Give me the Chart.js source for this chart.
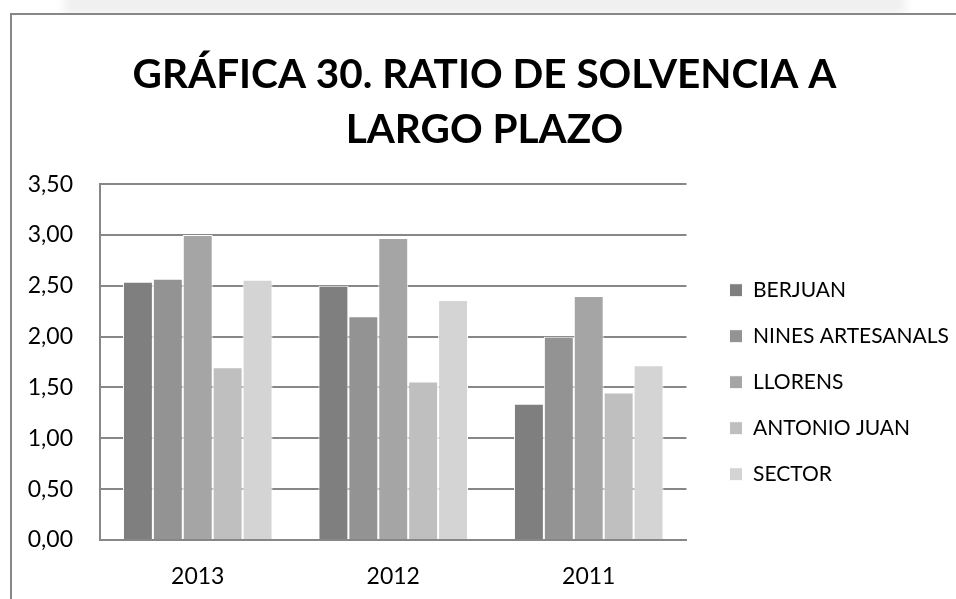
<!DOCTYPE html>
<html>
<head>
<meta charset="utf-8">
<script src="https://cdn.jsdelivr.net/npm/chart.js@4"></script>
<style>
  html, body { margin: 0; padding: 0; background: #fff; }
  #wrap { position: relative; width: 956px; height: 599px; overflow: hidden; }
  #shade { position: absolute; left: 70px; top: 0; width: 830px; height: 8px;
    background: #f0f0f0; box-shadow: 0 0 10px 6px #f0f0f0; }
  #frame { position: absolute; left: 10px; top: 13px; width: 960px; height: 600px;
    border: 2px solid #878787; background: #fff; }
  canvas { position: absolute; left: 0; top: 0; }
</style>
</head>
<body>
<div id="wrap">
  <div id="shade"></div>
  <div id="frame"></div>
  <canvas id="ratio" width="956" height="599"></canvas>
</div>
<script>
var years = ["2013", "2012", "2011"];
var berjuan = [2.54, 2.50, 1.34];
var ninesArtesanals = [2.57, 2.20, 2.00];
var llorens = [3.00, 2.97, 2.40];
var antonioJuan = [1.70, 1.56, 1.45];
var sector = [2.56, 2.36, 1.72];

var font = "Lato, 'Open Sans', sans-serif";

function bar(label, data, color) {
	return {
		label: label,
		data: data,
		backgroundColor: color,
		borderColor: "#ffffff",
		borderWidth: 1,
		categoryPercentage: 0.765,
		barPercentage: 1
	};
}

var config = {
	type: 'bar',
	data: {
		labels: years,
		datasets: [
			bar("BERJUAN", berjuan, "#7f7f7f"),
			bar("NINES ARTESANALS", ninesArtesanals, "#939393"),
			bar("LLORENS", llorens, "#a5a5a5"),
			bar("ANTONIO JUAN", antonioJuan, "#bfbfbf"),
			bar("SECTOR", sector, "#d4d4d4")
		]
	},
	options: {
		responsive: false,
		animation: false,
		layout: { padding: { left: 10, right: -3, top: 14, bottom: 0 } },
		plugins: {
			title: {
				display: true,
				text: ["GRÁFICA 30. RATIO DE SOLVENCIA A", "LARGO PLAZO"],
				color: "#000",
				font: { family: font, size: 40.5, weight: "bold", lineHeight: 1.36 },
				padding: { top: 33, bottom: 27 }
			},
			legend: {
				position: 'right',
				maxWidth: 280,
				title: { display: true, text: " ", font: { size: 12 }, padding: { top: 137, bottom: 0 } },
				labels: {
					color: "#000",
					boxWidth: 13,
					boxHeight: 13,
					padding: 25,
					font: { family: font, size: 21 }
				}
			},
			tooltip: { enabled: false }
		},
		scales: {
			x: {
				grid: { display: false },
				border: { display: true, color: "#878787", width: 2 },
				ticks: { color: "#000", padding: 15, font: { family: font, size: 23 } },
				afterFit: function (scale) { scale.height = 59; }
			},
			y: {
				min: 0,
				max: 3.5,
				grid: { color: "#878787", lineWidth: 2, drawTicks: false },
				border: { display: true, color: "#878787", width: 2 },
				ticks: {
					stepSize: 0.5,
					color: "#000",
					padding: 27,
					font: { family: font, size: 23 },
					callback: function (v) { return v.toFixed(2).replace(".", ","); }
				},
				afterFit: function (scale) { scale.width = 90; }
			},
			gap: {
				position: 'right',
				grid: { display: false },
				border: { display: false },
				ticks: { display: false },
				afterFit: function (scale) { scale.width = 18; }
			}
		}
	}
};

var ctx = document.getElementById("ratio").getContext("2d");
window.ratioChart = new Chart(ctx, config);
</script>
</body>
</html>
